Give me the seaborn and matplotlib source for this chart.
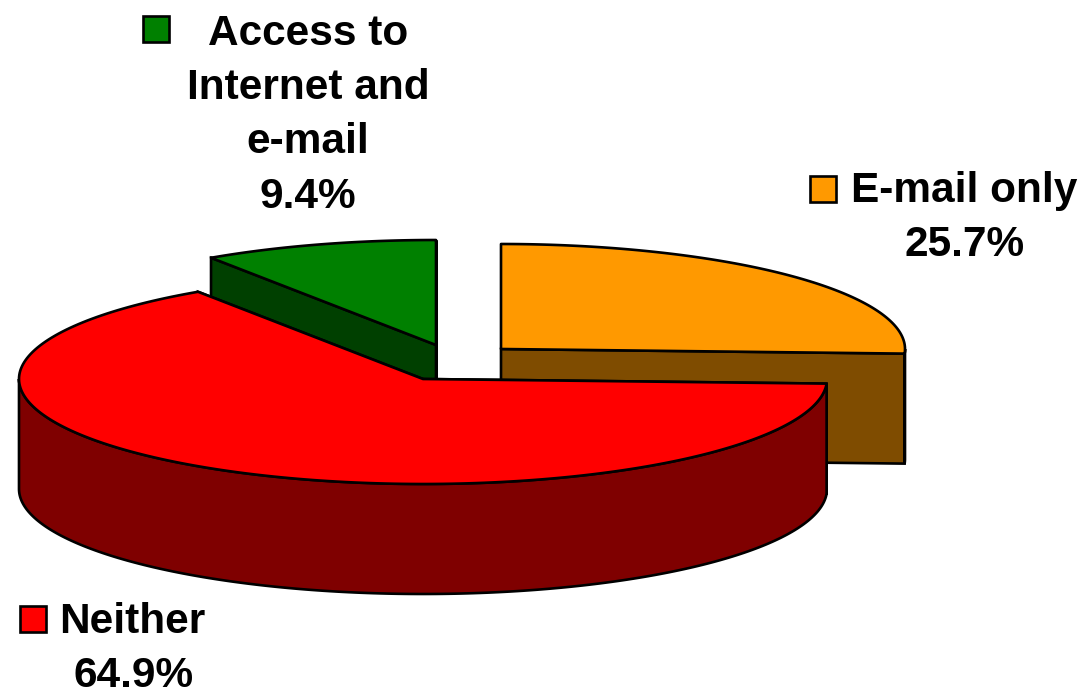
import numpy as np
import matplotlib
matplotlib.use('Agg')
import matplotlib.pyplot as plt
import seaborn as sns

# shares in percent, clockwise from 12 o'clock
labels = ['E-mail only', 'Neither', 'Access to\nInternet and\ne-mail']
shares = [25.7, 64.9, 9.4]
pct_labels = ['25.7%', '64.9%', '9.4%']
top_colors = ['#FF9900', '#FF0000', '#008000']
side_colors = ['#7F4C00', '#7F0000', '#004000']

sns.set_theme(style='white')
plt.rcParams['font.family'] = ['Liberation Sans', 'DejaVu Sans']

RX, RY, DEPTH = 404, 105, 110
LW = 1.9
FS = 30.5
# apex of each exploded slice, in picture pixels
apexes = [(501, 349), (423, 379), (436, 345)]
swatches = [(810, 176), (20, 606), (143, 16)]
label_x = [964, 132, 308]
label_y = [[191], [622], [34, 88, 142]]
pct_pos = [(965, 245), (134, 676), (308, 197)]


def arc(cx, cy, a0, a1, dy=0):
    # angles in degrees clockwise from the top
    t = np.radians(np.linspace(a0, a1, 200))
    return cx + RX * np.sin(t), cy - RY * np.cos(t) + dy


def draw_slice(ax, apex, a0, a1, top, side):
    cx, cy = apex
    # flat cut faces
    for a in (a0, a1):
        ex, ey = arc(cx, cy, a, a)
        ex, ey = ex[0], ey[0]
        ax.fill([cx, ex, ex, cx], [cy, ey, ey + DEPTH, cy + DEPTH],
                facecolor=side, edgecolor='black', lw=LW, zorder=ax.zn)
        ax.zn += 1
    # outer rim, only the part facing the viewer
    lo, hi = max(a0, 90), min(a1, 270)
    if lo < hi:
        x, y = arc(cx, cy, lo, hi)
        xb, yb = arc(cx, cy, hi, lo, DEPTH)
        ax.fill(np.r_[x, xb], np.r_[y, yb], facecolor=side,
                edgecolor='black', lw=LW, zorder=ax.zn)
        ax.zn += 1
    # top face
    x, y = arc(cx, cy, a0, a1)
    ax.fill(np.r_[cx, x], np.r_[cy, y], facecolor=top, edgecolor='black',
            lw=LW, joinstyle='round', zorder=ax.zn)
    ax.zn += 1


fig = plt.figure(figsize=(10.85, 6.94), dpi=100)
ax = fig.add_axes([0, 0, 1, 1])
ax.set_xlim(0, 1085)
ax.set_ylim(694, 0)
ax.axis('off')
ax.zn = 2

# slice angles come from the shares
edges = np.r_[0, np.cumsum(shares)] * 3.6
for i in [0, 2, 1]:  # back slices first, red one in front
    draw_slice(ax, apexes[i], edges[i], edges[i + 1], top_colors[i], side_colors[i])

for i in range(3):
    ax.add_patch(plt.Rectangle(swatches[i], 26, 26, facecolor=top_colors[i],
                               edgecolor='black', lw=LW, zorder=50))
    # one text per line to hit the line pitch
    for line, yy in zip(labels[i].split('\n'), label_y[i]):
        ax.text(label_x[i], yy, line, ha='center', va='center',
                fontsize=FS, fontweight='bold', color='black')
    ax.text(pct_pos[i][0], pct_pos[i][1], pct_labels[i], ha='center', va='center',
            fontsize=FS, fontweight='bold', color='black')

fig.savefig('out.png', dpi=100)
